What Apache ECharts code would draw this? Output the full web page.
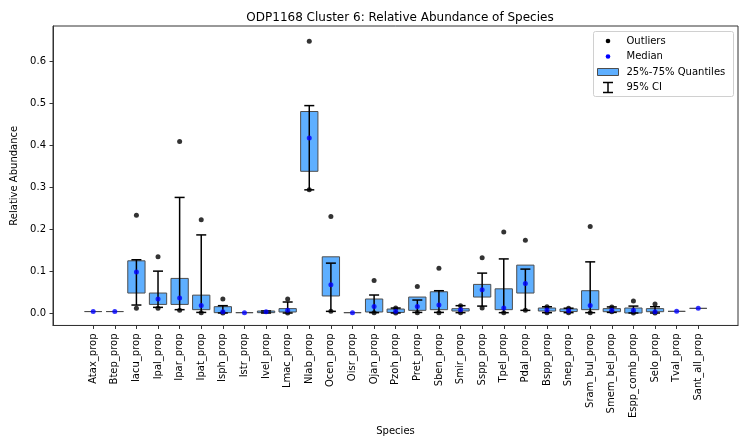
<!DOCTYPE html>
<html>
<head>
<meta charset="utf-8">
<script src="https://cdn.jsdelivr.net/npm/echarts@6.0.0/dist/echarts.min.js"></script>
<style>
  body { margin: 0; background: #fff; }
  #chart { width: 747px; height: 441px; }
</style>
</head>
<body>
<div id="chart"></div>
<script>
// species on the x axis
var species = ['Atax_prop', 'Btep_prop', 'Iacu_prop', 'Ipal_prop', 'Ipar_prop', 'Ipat_prop', 'Isph_prop',
  'Istr_prop', 'Ivel_prop', 'Lmac_prop', 'Nlab_prop', 'Ocen_prop', 'Oisr_prop', 'Ojan_prop', 'Pzoh_prop',
  'Pret_prop', 'Sben_prop', 'Smir_prop', 'Sspp_prop', 'Tpel_prop', 'Pdal_prop', 'Bspp_prop', 'Snep_prop',
  'Sram_bul_prop', 'Smem_bel_prop', 'Espp_comb_prop', 'Selo_prop', 'Tval_prop', 'Sant_all_prop']

// 25% / 75% quantiles
var q25 = [0.005, 0.005, 0.049, 0.022, 0.022, 0.0095, 0.0024, 0.0024, 0.0024, 0.004, 0.338, 0.042, 0.0024, 0.004,
  0.003, 0.0079, 0.0095, 0.0063, 0.0395, 0.0095, 0.049, 0.0063, 0.005, 0.0095, 0.0047, 0.0016, 0.0047, 0.0055, 0.0126]
var q75 = [0.005, 0.005, 0.1255, 0.049, 0.0837, 0.044, 0.0166, 0.0024, 0.0063, 0.012, 0.48, 0.135, 0.0024, 0.0348,
  0.011, 0.0395, 0.052, 0.0118, 0.0695, 0.059, 0.1153, 0.0134, 0.0113, 0.0545, 0.012, 0.0134, 0.012, 0.0055, 0.0126]

// medians
var medians = [0.005, 0.005, 0.0987, 0.0348, 0.037, 0.0197, 0.0047, 0.0024, 0.0047, 0.0079, 0.417, 0.0687, 0.0024,
  0.0173, 0.0055, 0.0173, 0.0205, 0.0095, 0.0568, 0.0134, 0.0718, 0.0087, 0.0071, 0.0197, 0.0079, 0.0079, 0.0047,
  0.0055, 0.0126]

// 95% CI (null = no error bar)
var ciLow = [null, null, 0.0205, 0.015, 0.0095, 0.003, 0.0016, null, 0.0016, 0.0016, 0.294, 0.0055, null, 0.0024,
  0.0016, 0.003, 0.003, 0.0024, 0.018, 0.0024, 0.0079, 0.0024, 0.0024, 0.0024, 0.003, 0.0016, 0.0016, null, null]
var ciHigh = [null, null, 0.128, 0.101, 0.276, 0.187, 0.019, null, 0.0065, 0.0277, 0.494, 0.12, null, 0.0443,
  0.0134, 0.0324, 0.0545, 0.019, 0.0963, 0.13, 0.1058, 0.0165, 0.013, 0.123, 0.016, 0.018, 0.0165, null, null]

// outliers (high and low)
var outHigh = [null, null, 0.2337, 0.135, 0.409, 0.223, 0.0348, null, null, 0.0348, 0.647, 0.2305, null, 0.079,
  0.0134, 0.0645, 0.108, 0.019, 0.1326, 0.194, 0.1745, 0.0165, 0.013, 0.2068, 0.016, 0.03, 0.023, null, null]
var outLow = [null, null, 0.0126, 0.0126, 0.0079, 0.002, 0.0016, null, null, 0.0016, 0.294, 0.0055, null, 0.0024,
  0.0016, 0.0024, 0.0024, 0.0024, 0.0134, 0.0024, 0.0079, 0.0024, 0.0024, 0.0024, 0.0047, 0.0016, 0.0016, null, null]

// y tick labels
var yTicks = [0, 0.1, 0.2, 0.3, 0.4, 0.5, 0.6]

var font = 'DejaVu Sans'
var boxFill = '#5eafff'
var boxEdge = '#4d4d4d'

var idx = species.map(function(s, i) { return i })
var boxData = idx.map(function(i) { return [i, q25[i], q75[i]] })
var ciData = idx.filter(function(i) { return ciLow[i] !== null }).map(function(i) { return [i, ciLow[i], ciHigh[i]] })
var medData = idx.map(function(i) { return [i, medians[i]] })
var outData = []
idx.forEach(function(i) {
  if (outHigh[i] !== null) outData.push([i, outHigh[i]])
  if (outLow[i] !== null) outData.push([i, outLow[i]])
})

var chart = echarts.init(document.getElementById('chart'), null, { renderer: 'canvas' })
var option = {
  animation: false,
  backgroundColor: '#fff',
  title: {
    text: 'ODP1168 Cluster 6: Relative Abundance of Species',
    left: 395,
    top: 7,
    textAlign: 'center',
    textStyle: { fontFamily: font, fontSize: 12, fontWeight: 'normal', color: '#000' }
  },
  grid: {
    left: 53, right: 9, top: 26, bottom: 115,
    show: true, borderColor: '#333', borderWidth: 1, backgroundColor: 'transparent'
  },
  xAxis: {
    type: 'value',
    min: -1.86,
    max: 29.84,
    name: 'Species',
    nameLocation: 'middle',
    nameGap: 98,
    nameTextStyle: { fontFamily: font, fontSize: 10, color: '#000' },
    splitLine: { show: false },
    axisLine: { onZero: false, lineStyle: { color: '#333', width: 1 } },
    axisTick: { customValues: idx, length: 3.5, lineStyle: { color: '#333' } },
    axisLabel: {
      customValues: idx,
      rotate: 90,
      margin: 8,
      fontFamily: font,
      fontSize: 10,
      color: '#000',
      formatter: function(v) { return species[Math.round(v)] }
    }
  },
  yAxis: {
    type: 'value',
    min: -0.028,
    max: 0.683,
    name: 'Relative Abundance',
    nameLocation: 'middle',
    nameGap: 27,
    nameTextStyle: { fontFamily: font, fontSize: 10, color: '#000' },
    splitLine: { show: false },
    axisLine: { show: true, onZero: false, lineStyle: { color: '#333', width: 1 } },
    axisTick: { show: true, customValues: yTicks, length: 3.5, lineStyle: { color: '#333' } },
    axisLabel: {
      customValues: yTicks,
      margin: 7,
      fontFamily: font,
      fontSize: 10,
      color: '#000',
      formatter: function(v) { return v.toFixed(1) }
    }
  },
  series: [
    {
      // 25%-75% boxes
      name: '25%-75% Quantiles',
      type: 'custom',
      z: 1,
      data: boxData,
      renderItem: function(params, api) {
        var lo = api.coord([api.value(0), api.value(1)])
        var hi = api.coord([api.value(0), api.value(2)])
        var w = api.size([0.8, 0])[0]
        return {
          type: 'rect',
          shape: { x: lo[0] - w / 2, y: hi[1], width: w, height: lo[1] - hi[1] },
          style: { fill: boxFill, stroke: boxEdge, lineWidth: 1 }
        }
      }
    },
    {
      // 95% CI error bars
      name: '95% CI',
      type: 'custom',
      z: 2,
      data: ciData,
      renderItem: function(params, api) {
        var lo = api.coord([api.value(0), api.value(1)])
        var hi = api.coord([api.value(0), api.value(2)])
        var c = 5
        var st = { stroke: '#000', lineWidth: 1.5 }
        return {
          type: 'group',
          children: [
            { type: 'line', shape: { x1: lo[0], y1: lo[1], x2: hi[0], y2: hi[1] }, style: st },
            { type: 'line', shape: { x1: hi[0] - c, y1: hi[1], x2: hi[0] + c, y2: hi[1] }, style: st },
            { type: 'line', shape: { x1: lo[0] - c, y1: lo[1], x2: lo[0] + c, y2: lo[1] }, style: st }
          ]
        }
      }
    },
    {
      name: 'Outliers',
      type: 'scatter',
      z: 3,
      symbolSize: 5,
      itemStyle: { color: '#000' },
      data: outData
    },
    {
      name: 'Median',
      type: 'scatter',
      z: 4,
      symbolSize: 5,
      itemStyle: { color: '#0000ff' },
      data: medData
    }
  ],
  // legend box drawn by hand
  graphic: [
    {
      type: 'group',
      left: 593,
      top: 31,
      children: [
        { type: 'rect', shape: { x: 0, y: 0, width: 140, height: 65, r: 2 }, style: { fill: '#fff', stroke: '#d0d0d0', lineWidth: 1 } },
        { type: 'circle', shape: { cx: 14.5, cy: 9.5, r: 2.3 }, style: { fill: '#000' } },
        { type: 'text', x: 33, y: 9.5, style: { text: 'Outliers', font: '10px "DejaVu Sans"', fill: '#000', verticalAlign: 'middle' } },
        { type: 'circle', shape: { cx: 14.5, cy: 25, r: 2.3 }, style: { fill: '#0000ff' } },
        { type: 'text', x: 33, y: 25, style: { text: 'Median', font: '10px "DejaVu Sans"', fill: '#000', verticalAlign: 'middle' } },
        { type: 'rect', shape: { x: 4, y: 37, width: 21, height: 7 }, style: { fill: boxFill, stroke: boxEdge, lineWidth: 1 } },
        { type: 'text', x: 33, y: 40.5, style: { text: '25%-75% Quantiles', font: '10px "DejaVu Sans"', fill: '#000', verticalAlign: 'middle' } },
        { type: 'line', shape: { x1: 14.5, y1: 51, x2: 14.5, y2: 61 }, style: { stroke: '#000', lineWidth: 1.5 } },
        { type: 'line', shape: { x1: 9.5, y1: 51, x2: 19.5, y2: 51 }, style: { stroke: '#000', lineWidth: 1.5 } },
        { type: 'line', shape: { x1: 9.5, y1: 61, x2: 19.5, y2: 61 }, style: { stroke: '#000', lineWidth: 1.5 } },
        { type: 'text', x: 33, y: 56, style: { text: '95% CI', font: '10px "DejaVu Sans"', fill: '#000', verticalAlign: 'middle' } }
      ]
    }
  ]
}
chart.setOption(option)
</script>
</body>
</html>
